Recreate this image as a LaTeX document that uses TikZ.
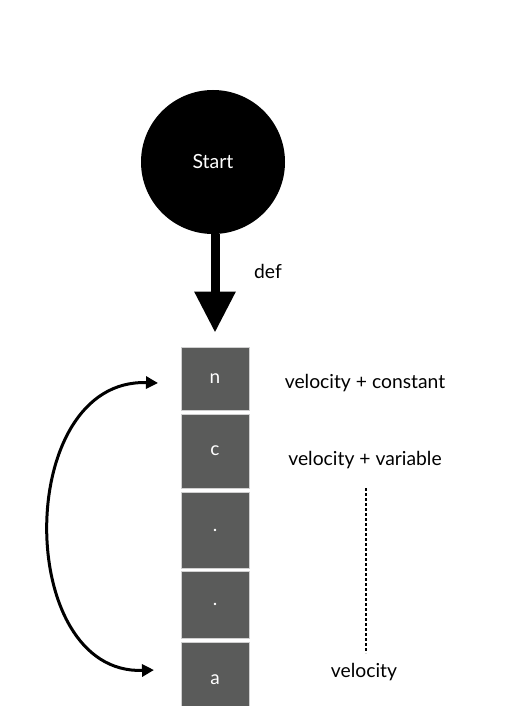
\documentclass[tikz,border=0pt]{standalone}
\usepackage{fontspec}
\setmainfont{Lato}
\usetikzlibrary{arrows.meta}
\definecolor{boxgray}{HTML}{5A5B5A}
\definecolor{edgegray}{HTML}{D0D0D0}
\begin{document}
\begin{tikzpicture}[x=1pt,y=-1pt,
  cell/.style={draw=edgegray,line width=0.8pt,fill=boxgray,text=white,minimum width=68pt,inner sep=0pt,font=\fontsize{19}{21}\selectfont},
  lbl/.style={font=\fontsize{19.3}{21}\selectfont,inner sep=0pt}]
\useasboundingbox (0,0) rectangle (519,706);
\node[circle,fill=black,minimum size=144pt,inner sep=0pt,text=white,font=\fontsize{19.5}{22}\selectfont] (start) at (213,162) {Start};
\node[cell,minimum height=63pt] (n) at (215,378.5) {n};
\node[cell,minimum height=74pt] (c) at (215,451) {c};
\node[cell,minimum height=76pt] (d1) at (215,530) {.};
\node[cell,minimum height=67pt] (d2) at (215,604.5) {.};
\node[cell,minimum height=76pt] (a) at (215,680) {a};
\draw[line width=9pt,-{Triangle[length=41pt,width=39pt]},shorten >=14pt] ([xshift=2pt]start.south) -- ([xshift=0pt]n.north);
\node[lbl] (def) at (268,271) {def};
\coordinate (nl) at (158,383);
\coordinate (al) at (154,670);
\draw[line width=3pt,{Triangle[length=12pt,width=12pt]}-{Triangle[length=12pt,width=12pt]}] (nl) .. controls (14,378) and (14,675) .. (al);
\node[lbl] (vc) at (365,383) {velocity + constant};
\node[lbl] (vv) at (365,460) {velocity + variable};
\node[lbl] (v) at (364,672) {velocity};
\coordinate (dtop) at (366,488);
\coordinate (dbot) at (366,653);
\draw[line width=1.4pt,dash pattern=on 3pt off 2pt] (dtop) -- (dbot);
\end{tikzpicture}
\end{document}
